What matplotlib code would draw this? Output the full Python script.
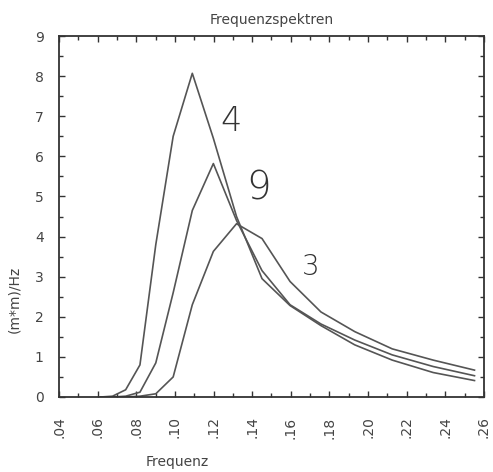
import matplotlib
matplotlib.use("Agg")
import matplotlib.pyplot as plt
from matplotlib.ticker import MultipleLocator, FuncFormatter

# frequency grid
freq = [0.0616, 0.0677, 0.0745, 0.0819, 0.0901, 0.0991, 0.1090, 0.1199,
        0.1319, 0.1451, 0.1596, 0.1756, 0.1931, 0.2125, 0.2337, 0.2551]

# spectra, labelled by the handwritten numbers
spec_4 = [0.0, 0.02, 0.18, 0.80, 3.80, 6.50, 8.07, 6.45,
          4.50, 2.95, 2.28, 1.78, 1.30, 0.92, 0.61, 0.41]
spec_9 = [0.0, 0.0, 0.02, 0.12, 0.85, 2.60, 4.65, 5.82,
          4.40, 3.15, 2.30, 1.82, 1.42, 1.05, 0.76, 0.53]
spec_3 = [0.0, 0.0, 0.0, 0.02, 0.08, 0.50, 2.30, 3.63,
          4.32, 3.95, 2.88, 2.12, 1.63, 1.20, 0.92, 0.67]

# handwritten notes: (text, x, y, size)
notes = [("4", 0.1289, 6.86, 24), ("9", 0.1434, 5.19, 28), ("3", 0.1702, 3.24, 20)]

line_col = "#555555"
text_col = "#444444"

fig = plt.figure(figsize=(4.93, 4.72), dpi=100)
ax = fig.add_axes([0.1197, 0.1589, 0.862, 0.7648])

for s in (spec_4, spec_9, spec_3):
    ax.plot(freq, s, color=line_col, lw=1.2)

for txt, x, y, size in notes:
    ax.text(x, y, txt, fontsize=size, color="#333333", ha="center", va="center",
            fontweight="light")

ax.set_xlim(0.04, 0.26)
ax.set_ylim(0, 9)
ax.xaxis.set_major_locator(MultipleLocator(0.02))
ax.xaxis.set_minor_locator(MultipleLocator(0.01))
ax.yaxis.set_major_locator(MultipleLocator(1))
ax.yaxis.set_minor_locator(MultipleLocator(0.5))
ax.xaxis.set_major_formatter(FuncFormatter(lambda v, p: ("%.2f" % v)[1:]))

ax.tick_params(which="both", direction="in", top=True, right=True,
               colors="#333333", labelcolor=text_col, labelsize=10)
ax.tick_params(which="major", length=4, width=1)
ax.tick_params(which="minor", length=3, width=1)
ax.tick_params(axis="x", which="major", pad=14, labelrotation=90)
ax.tick_params(axis="y", which="major", pad=11)

for sp in ax.spines.values():
    sp.set_linewidth(1.3)
    sp.set_color("#333333")

ax.set_title("Frequenzspektren", fontsize=10, color=text_col, pad=9)
ax.set_xlabel("Frequenz", fontsize=10, color=text_col)
ax.xaxis.set_label_coords(0.278, -0.16)
ax.set_ylabel("(m*m)/Hz", fontsize=10, color=text_col)
ax.yaxis.set_label_coords(-0.09, 0.27)

fig.savefig("out.png", dpi=100)
